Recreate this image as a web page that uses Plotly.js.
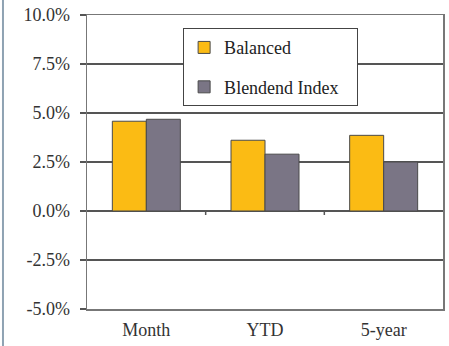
<!DOCTYPE html>
<html>
<head>
<meta charset="utf-8">
<script src="https://cdn.plot.ly/plotly-3.0.1.min.js"></script>
<style>html,body{margin:0;padding:0;background:#fff;}#chart{width:449px;height:346px;}</style>
</head>
<body>
<div id="chart"></div>
<script>
const categories = ["Month", "YTD", "5-year"];
const balanced = [4.58, 3.61, 3.86];
const blended = [4.68, 2.9, 2.5];
const seriesNames = ["Balanced", "Blendend Index"];
const yTickVals = [-5, -2.5, 0, 2.5, 5, 7.5, 10];
const yTickText = ["-5.0%", "-2.5%", "0.0%", "2.5%", "5.0%", "7.5%", "10.0%"];

const serif = "Liberation Serif";
const traces = [
  {type: "bar", name: seriesNames[0] + "   ", x: categories, y: balanced, legendgroup: "a",
   marker: {color: "#FBBB14", line: {color: "#4a4a4a", width: 1}}},
  {type: "bar", name: seriesNames[1] + "   ", x: categories, y: blended, legendgroup: "b",
   marker: {color: "#7A7585", line: {color: "#4a4a4a", width: 1}}}
];

const boundaryShapes = [0.5, 1.5].map(v => ({
  type: "line", xref: "x", yref: "y", ysizemode: "pixel", yanchor: 0,
  x0: v, x1: v, y0: 0, y1: -4, line: {color: "#555", width: 1.5}
}));

const layout = {
  width: 449, height: 346,
  margin: {l: 87, r: 6, t: 15, b: 37},
  paper_bgcolor: "#fff", plot_bgcolor: "#fff",
  barmode: "group", bargap: 0.427, bargroupgap: 0,
  font: {family: serif, color: "#333", size: 18},
  showlegend: true,
  legend: {
    x: 0.27, y: 0.955, xanchor: "left", yanchor: "top",
    bgcolor: "#fff", bordercolor: "#444", borderwidth: 1,
    font: {family: serif, size: 18, color: "#222"},
    traceorder: "grouped", tracegroupgap: 13,
    itemwidth: 30
  },
  xaxis: {
    type: "category", showgrid: false, zeroline: false,
    showline: true, linecolor: "#777", linewidth: 1.5, mirror: true,
    ticks: "", ticklabelstandoff: 4,
    tickfont: {family: serif, size: 18, color: "#333"},
    fixedrange: true
  },
  yaxis: {
    range: [-5, 10], tickvals: yTickVals, ticktext: yTickText,
    showgrid: true, gridcolor: "#555", gridwidth: 1.5,
    zeroline: true, zerolinecolor: "#555", zerolinewidth: 1.5,
    showline: true, linecolor: "#777", linewidth: 1.5, mirror: true,
    ticks: "outside", ticklen: 6, tickcolor: "#555", tickwidth: 1.5,
    ticklabelstandoff: 6,
    tickfont: {family: serif, size: 18, color: "#333"},
    fixedrange: true
  },
  shapes: boundaryShapes.concat([
    {type: "line", xref: "paper", yref: "paper", x0: -0.236, x1: -0.236, y0: -0.2, y1: 1.06,
     line: {color: "#8FA3B3", width: 2}}
  ])
};

Plotly.newPlot("chart", traces, layout, {displayModeBar: false, staticPlot: true});
</script>
</body>
</html>
